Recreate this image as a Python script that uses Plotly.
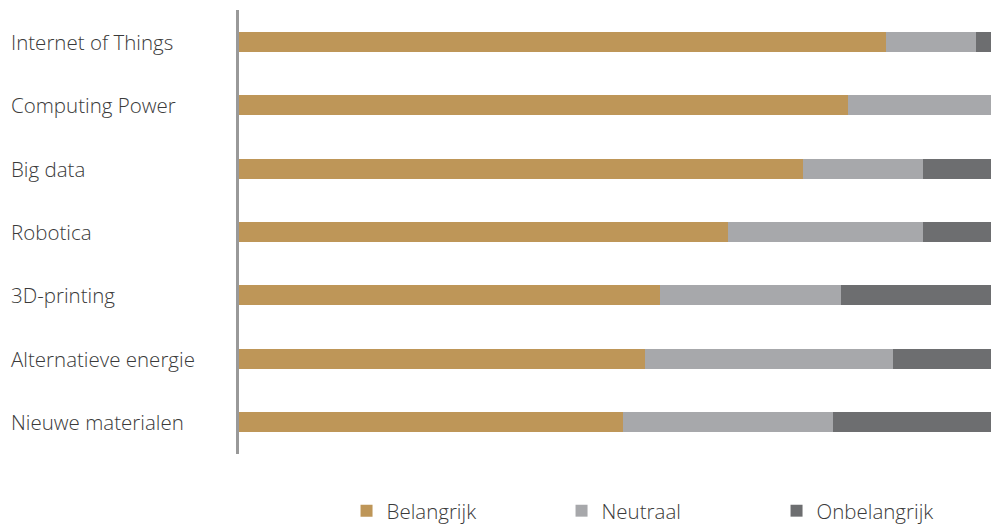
import plotly.graph_objects as go

categories = ["Internet of Things", "Computing Power", "Big data", "Robotica",
              "3D-printing", "Alternatieve energie", "Nieuwe materialen"]
belangrijk = [86, 81, 75, 65, 56, 54, 51]
neutraal = [12, 19, 16, 26, 24, 33, 28]
onbelangrijk = [2, 0, 9, 9, 20, 13, 21]

series = [("Belangrijk", belangrijk, "#BE9658"),
          ("Neutraal", neutraal, "#A7A8AB"),
          ("Onbelangrijk", onbelangrijk, "#6D6E70")]

fig = go.Figure()
for name, vals, col in series:
    fig.add_trace(go.Bar(
        y=categories, x=vals, name=name, orientation="h",
        marker=dict(color=col, line=dict(width=0)),
        width=0.315,
    ))

font_family = "Open Sans, Noto Sans, sans-serif"
text_color = "#3a3a3a"
fsize = 20.5
for c in categories:
    fig.add_annotation(x=-0.3058, xref="paper", y=c, yref="y", text=c,
                       showarrow=False, xanchor="left", yanchor="middle",
                       font=dict(family=font_family, size=fsize, color=text_color,
                                 weight=300))

fig.update_layout(
    width=991, height=525,
    margin=dict(l=239, r=0, t=10, b=71, autoexpand=False),
    barmode="stack",
    plot_bgcolor="white", paper_bgcolor="white",
    font=dict(family=font_family, size=fsize, color=text_color, weight=300),
    xaxis=dict(range=[0, 100], showgrid=False, zeroline=False,
               showticklabels=False, showline=False),
    yaxis=dict(autorange="reversed", showgrid=False, zeroline=False,
               showticklabels=False, showline=True, linecolor="#999999",
               linewidth=3, ticks=""),
    legend=dict(orientation="h", x=0.143, xanchor="left", y=-0.128,
                yanchor="middle", traceorder="normal",
                entrywidth=170, entrywidthmode="pixels",
                font=dict(family=font_family, size=fsize, color=text_color,
                          weight=300),
                itemwidth=30),
    showlegend=True,
)

fig.write_html("out.html", config={"displayModeBar": False},
               post_script="document.body.style.margin='0';document.body.style.overflow='hidden';")
